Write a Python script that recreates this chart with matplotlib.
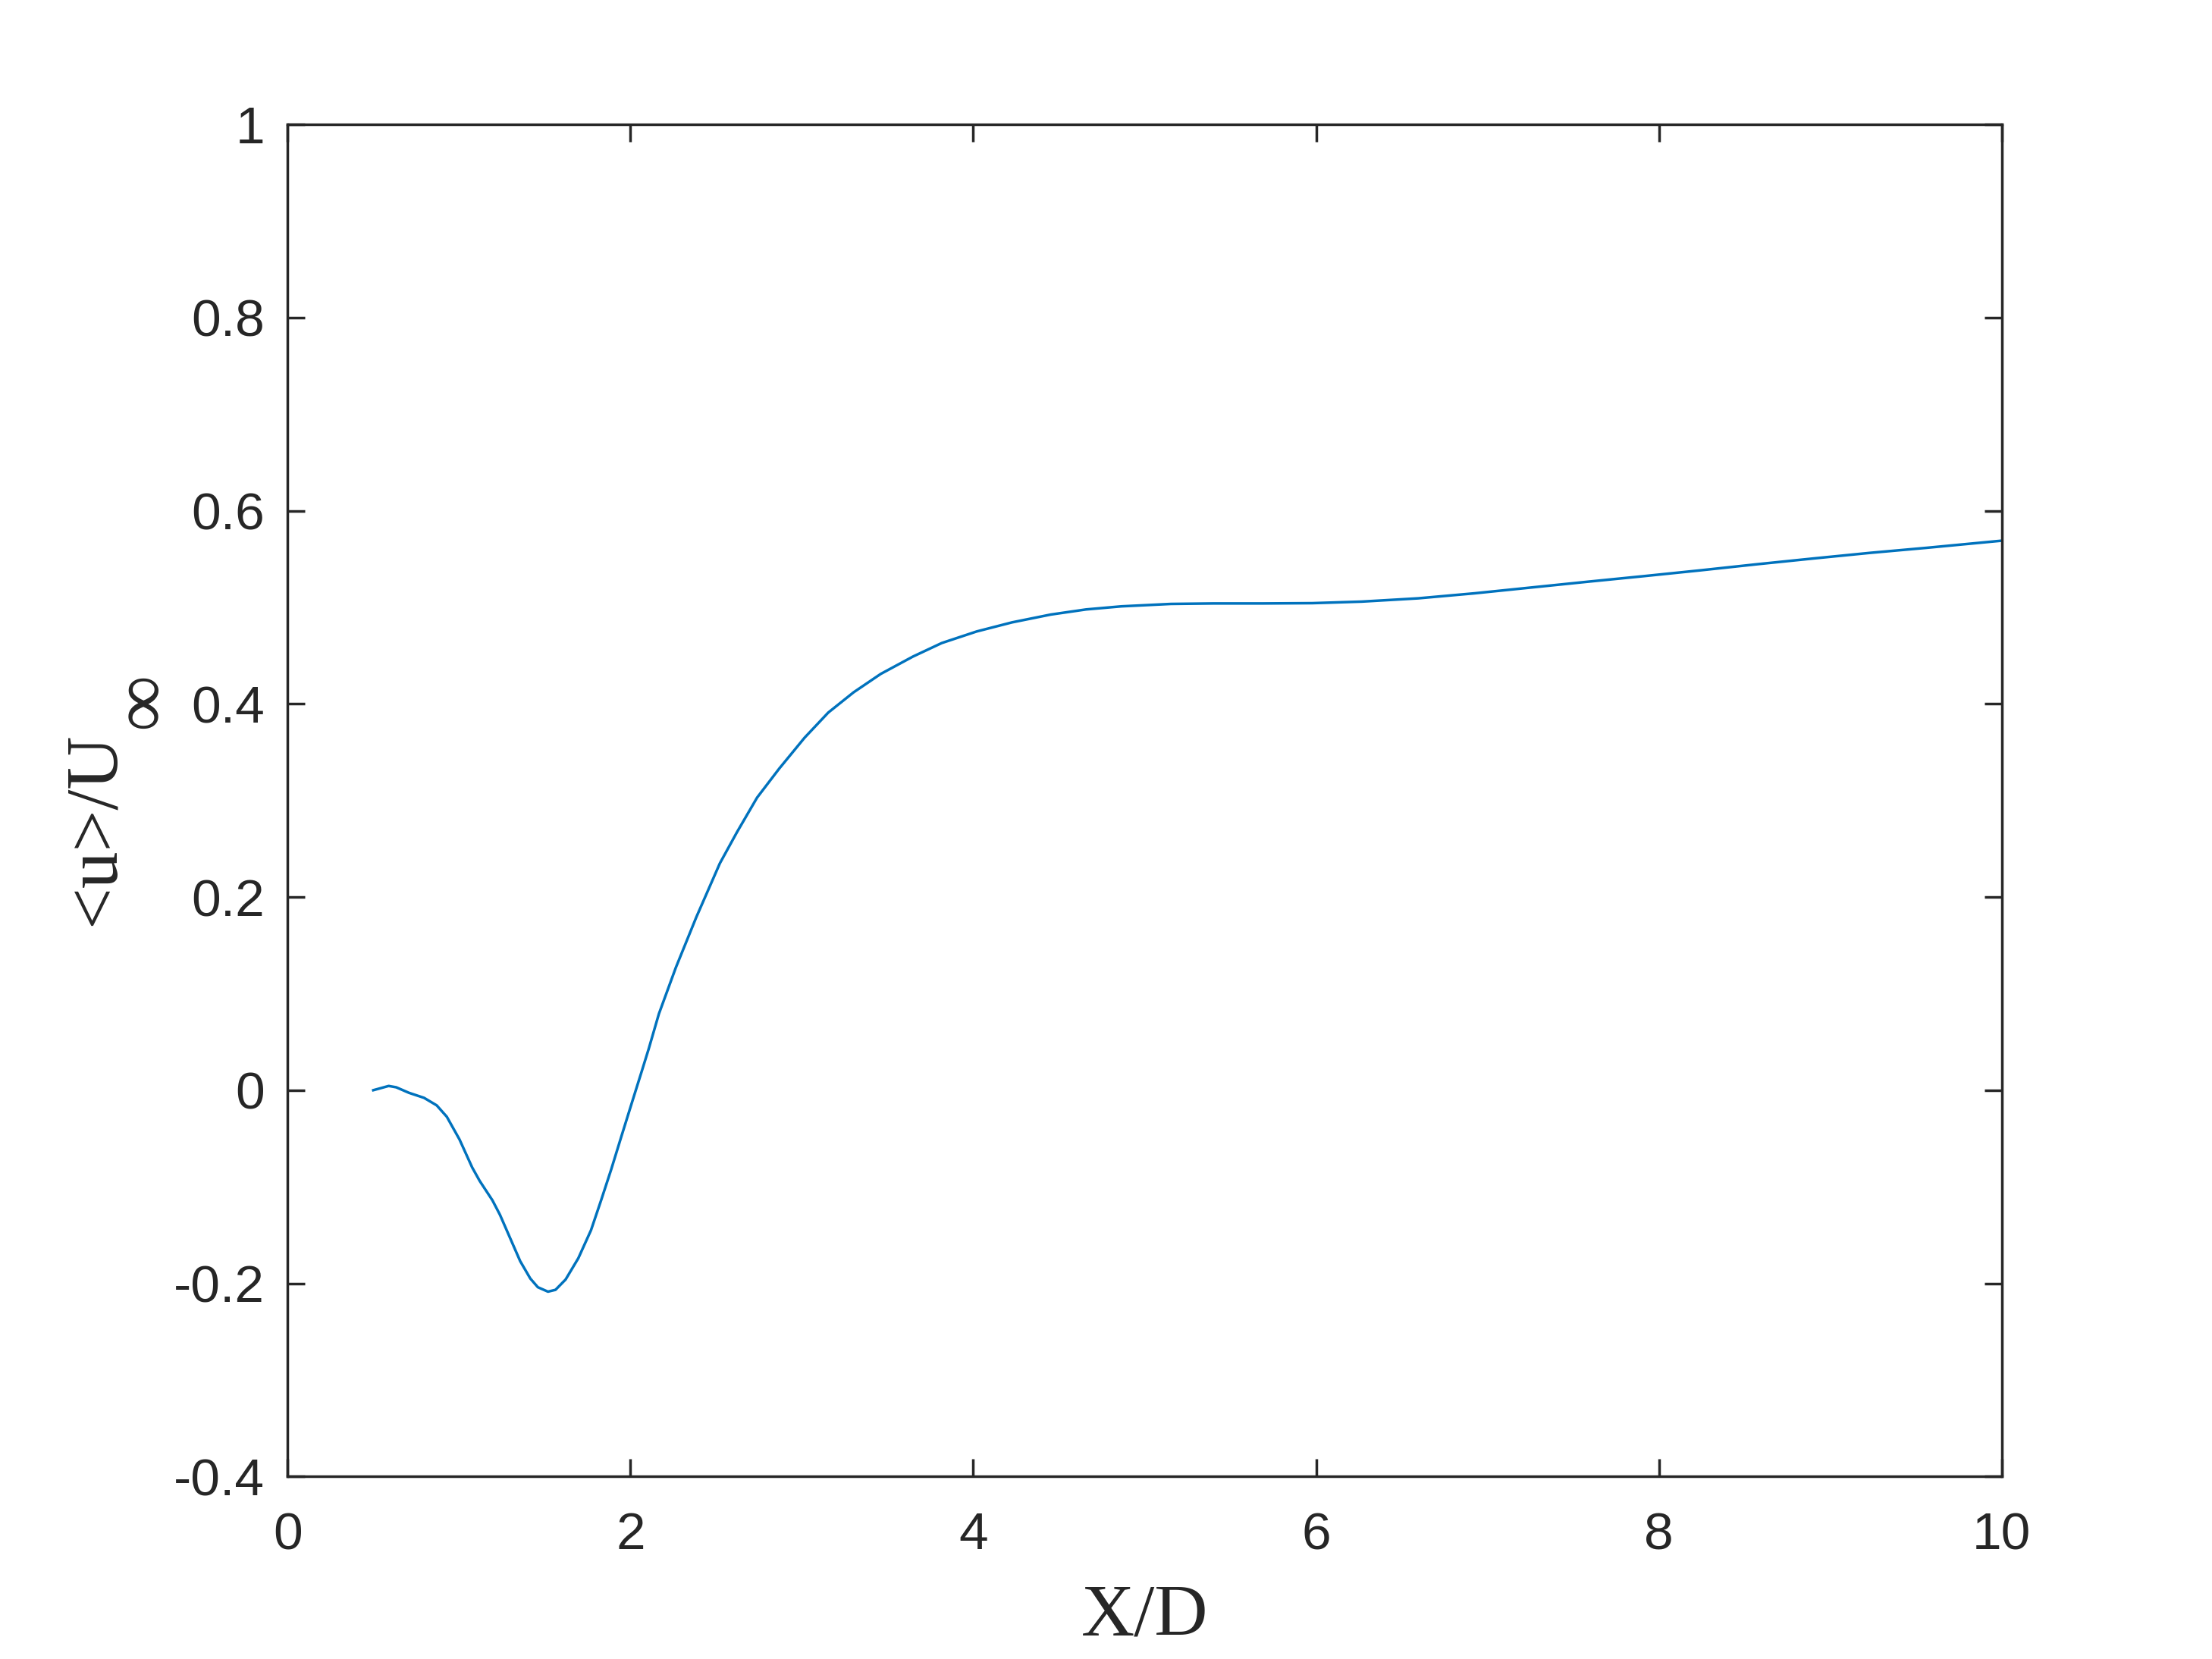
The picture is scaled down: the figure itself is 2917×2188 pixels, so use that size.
import matplotlib
matplotlib.use("Agg")
import matplotlib.pyplot as plt
from matplotlib.ticker import FuncFormatter

# --- streamwise mean velocity along the wake centreline ---
x_d = [0.50, 0.59, 0.634, 0.708, 0.796, 0.87, 0.929, 1.003, 1.077, 1.121,
       1.195, 1.239, 1.298, 1.357, 1.416, 1.460, 1.519, 1.563, 1.622, 1.696,
       1.770, 1.829, 1.888, 1.947, 2.006, 2.065, 2.107, 2.166, 2.265, 2.384,
       2.522, 2.621, 2.739, 2.868, 3.016, 3.154, 3.302, 3.460, 3.648, 3.816,
       4.02, 4.226, 4.452, 4.658, 4.864, 5.153, 5.400, 5.688, 5.977, 6.265,
       6.595, 6.924, 7.254, 7.584, 7.913, 8.242, 8.572, 8.902, 9.232, 9.561,
       10.0]
u_mean = [0.0, 0.0044, 0.003, -0.0027, -0.0079, -0.0157, -0.0275, -0.051, -0.080, -0.094,
          -0.114, -0.129, -0.153, -0.177, -0.195, -0.204, -0.2086, -0.2067, -0.196, -0.174,
          -0.145, -0.114, -0.082, -0.048, -0.0144, 0.019, 0.043, 0.079, 0.127, 0.179,
          0.235, 0.267, 0.303, 0.333, 0.365, 0.391, 0.412, 0.431, 0.449, 0.463,
          0.475, 0.4844, 0.4925, 0.4978, 0.501, 0.5035, 0.504, 0.504, 0.5043, 0.5059,
          0.5093, 0.5145, 0.5205, 0.5265, 0.5323, 0.5383, 0.5446, 0.5506, 0.5564, 0.5616,
          0.569]

x_ticks = [0, 2, 4, 6, 8, 10]
y_ticks = [-0.4, -0.2, 0, 0.2, 0.4, 0.6, 0.8, 1]

dark = '#262626'
serif = ['Liberation Serif', 'DejaVu Serif']

fig = plt.figure(figsize=(2917 / 500, 2188 / 500), dpi=500)
ax = fig.add_axes([0.13, 0.11, 0.775, 0.815])

ax.plot(x_d, u_mean, color='#0072BD', linewidth=0.5)

ax.set_xlim(0, 10)
ax.set_ylim(-0.4, 1)
ax.set_xticks(x_ticks)
ax.set_yticks(y_ticks)
ax.yaxis.set_major_formatter(FuncFormatter(lambda v, p: f'{v:g}'))

for s in ax.spines.values():
    s.set_linewidth(0.5)
    s.set_color(dark)
ax.tick_params(direction='in', length=3.25, width=0.5, color=dark,
               top=True, right=True, labelsize=10, labelcolor=dark)
ax.tick_params(axis='x', pad=6.6)
ax.tick_params(axis='y', pad=4.3)
for lbl in ax.get_xticklabels() + ax.get_yticklabels():
    lbl.set_family(['Liberation Sans', 'DejaVu Sans'])

ax.set_xlabel('X/D', fontsize=14, family=serif, color=dark, labelpad=4.6)

# y label: "<u>/U" with a large subscript infinity, as in the MATLAB original
ax.set_ylabel('<u>/U', fontsize=14, family=serif, color=dark, va='center')
ax.yaxis.set_label_coords(-0.112, 0.479)
fig.text(191 / 2917, 1 - 924 / 2188, '\u221e', fontsize=15, family=serif,
         color=dark, rotation=90, ha='center', va='center')

fig.savefig('out.png', dpi=500, facecolor='white')
